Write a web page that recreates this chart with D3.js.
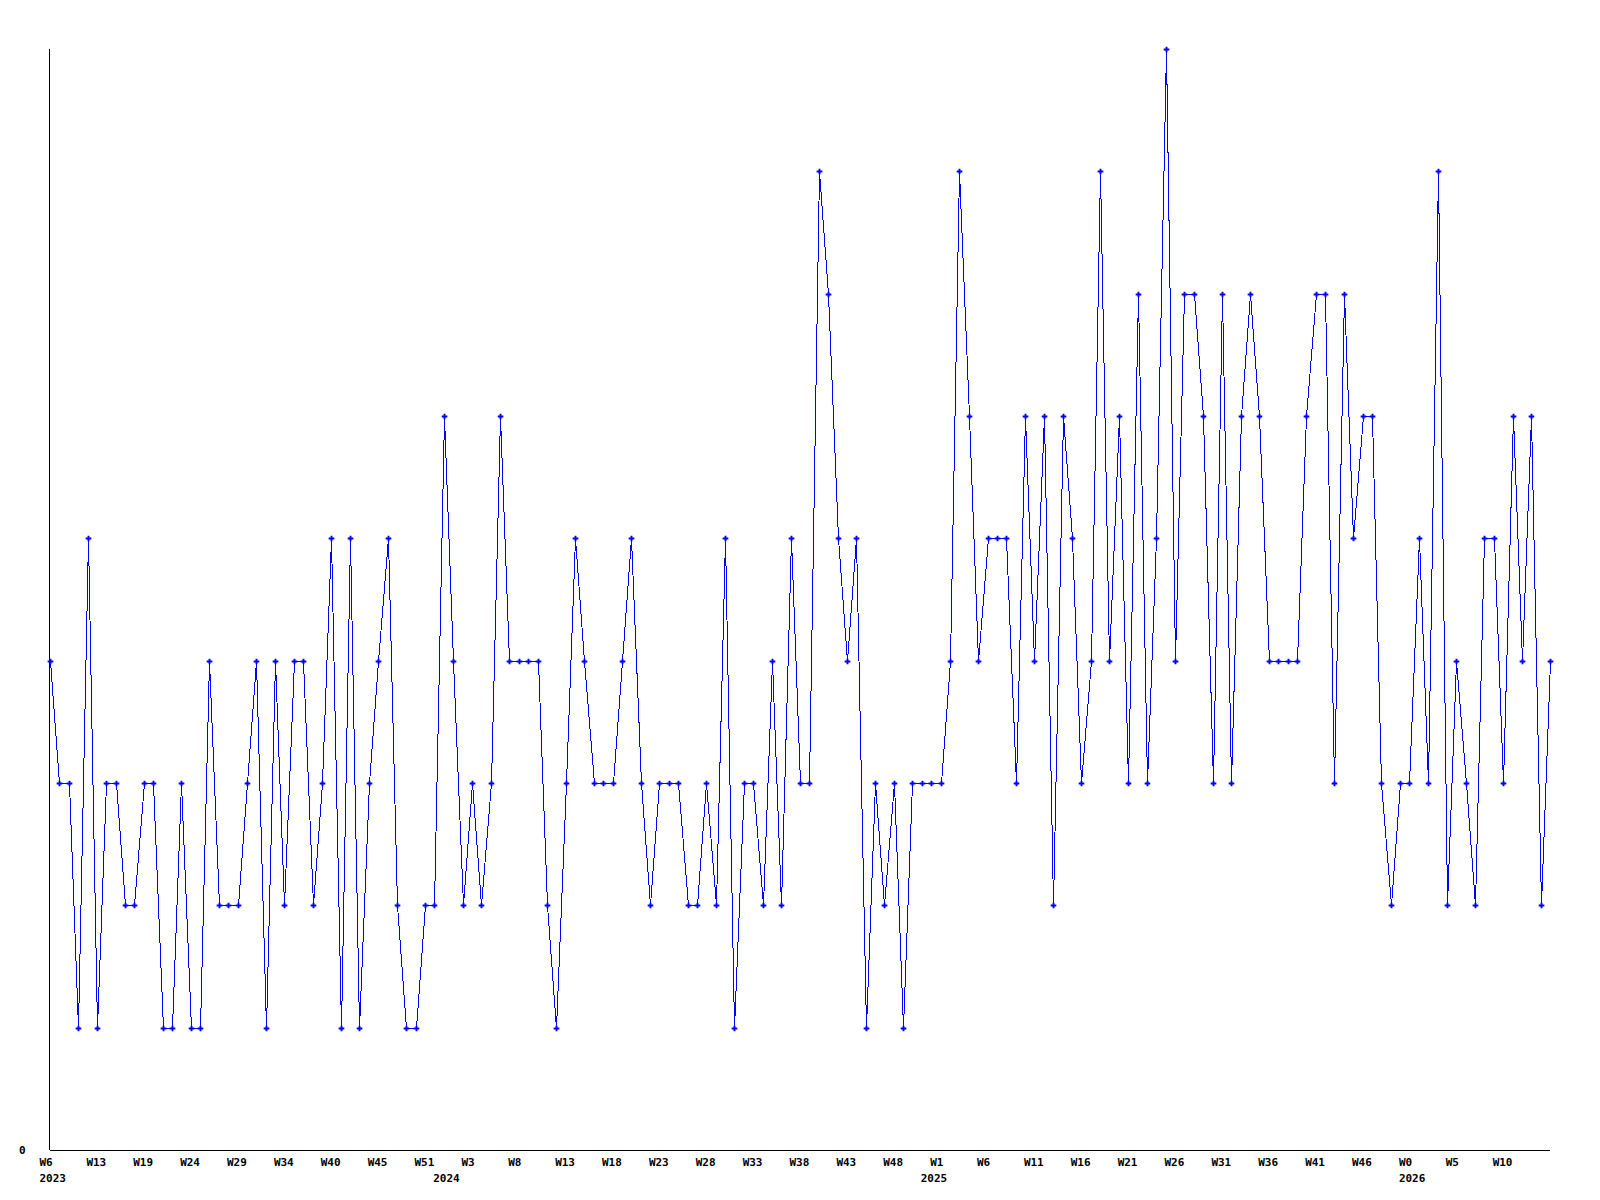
<html>
<head>
<script src="https://d3js.org/d3.v7.min.js"></script>
<style>
body { margin: 0; background: #fff; }
text { font-family: "DejaVu Sans Mono", "Liberation Mono", monospace; font-weight: bold; font-size: 11px; fill: #000; }
</style>
</head>
<body>
<svg></svg>
<script>

var width = 1600;
var height = 1200;

// weekly counts (one value per point)
var values = [4,3,3,1,5,1,3,3,2,2, 3,3,1,1,3,1,1,4,2,2,
              2,3,4,1,4,2,4,4,2,3, 5,1,5,1,3,4,5,2,1,1,
              2,2,6,4,2,3,2,3,6,4, 4,4,4,2,1,3,5,4,3,3,
              3,4,5,3,2,3,3,3,2,2, 3,2,5,1,3,3,2,4,2,5,
              3,3,8,7,5,4,5,1,3,2, 3,1,3,3,3,3,4,8,6,4,
              5,5,5,3,6,4,6,2,6,5, 3,4,8,4,6,3,7,3,5,9,
              4,7,7,6,3,7,3,6,7,6, 4,4,4,4,6,7,7,3,7,5,
              6,6,3,2,3,3,5,3,8,2, 4,3,2,5,5,3,6,4,6,2,
              4];

// a week label every 5th point
var weekLabels = ["W6","W13","W19","W24","W29","W34","W40","W45","W51",
                  "W3","W8","W13","W18","W23","W28","W33","W38","W43","W48",
                  "W1","W6","W11","W16","W21","W26","W31","W36","W41","W46",
                  "W0","W5","W10"];
var labelEvery = 5;

// year labels and the point where each year begins
var years = ["2023","2024","2025","2026"];
var yearStart = [0, 42, 94, 145];

var svg = d3.select("svg").attr("width", width).attr("height", height);

var xScale = d3.scaleLinear().domain([0, values.length - 1]).range([50, 1550]);
var yScale = d3.scaleLinear().domain([0, 9]).range([1150, 49]);

// axes (plain lines, no ticks)
svg.append("line")
  .attr("x1", xScale(0)).attr("x2", xScale(values.length - 1))
  .attr("y1", yScale(0) + 0.5).attr("y2", yScale(0) + 0.5)
  .attr("stroke", "#000").attr("shape-rendering", "crispEdges");
svg.append("line")
  .attr("x1", xScale(0) - 0.5).attr("x2", xScale(0) - 0.5)
  .attr("y1", yScale(9)).attr("y2", yScale(0))
  .attr("stroke", "#000").attr("shape-rendering", "crispEdges");

svg.append("text").attr("x", 19).attr("y", yScale(0) + 4).text("0");

// week labels, left aligned a bit before their point
svg.selectAll("text.week").data(weekLabels).enter().append("text")
  .attr("class", "week")
  .attr("x", function (d, i) { return xScale(i * labelEvery) - 10.5; })
  .attr("y", 1166)
  .text(function (d) { return d; });

svg.selectAll("text.year").data(years).enter().append("text")
  .attr("class", "year")
  .attr("x", function (d, i) { return xScale(yearStart[i]) - 10.5; })
  .attr("y", 1182)
  .text(function (d) { return d; });

// the series
var line = d3.line()
  .x(function (d, i) { return Math.round(xScale(i)) + 0.5; })
  .y(function (d) { return Math.round(yScale(d)) + 0.5; });

svg.append("path")
  .datum(values)
  .attr("d", line)
  .attr("fill", "none")
  .attr("stroke", "#0000ff")
  .attr("stroke-width", 1)
  .attr("shape-rendering", "crispEdges");

var marker = d3.symbol().type(d3.symbolCross).size(18);

svg.selectAll("path.pt").data(values).enter().append("path")
  .attr("class", "pt")
  .attr("d", marker)
  .attr("transform", function (d, i) {
    return "translate(" + (Math.round(xScale(i)) + 0.5) + "," + (Math.round(yScale(d)) + 0.5) + ")";
  })
  .attr("fill", "#0000ff");

</script>
</body>
</html>
